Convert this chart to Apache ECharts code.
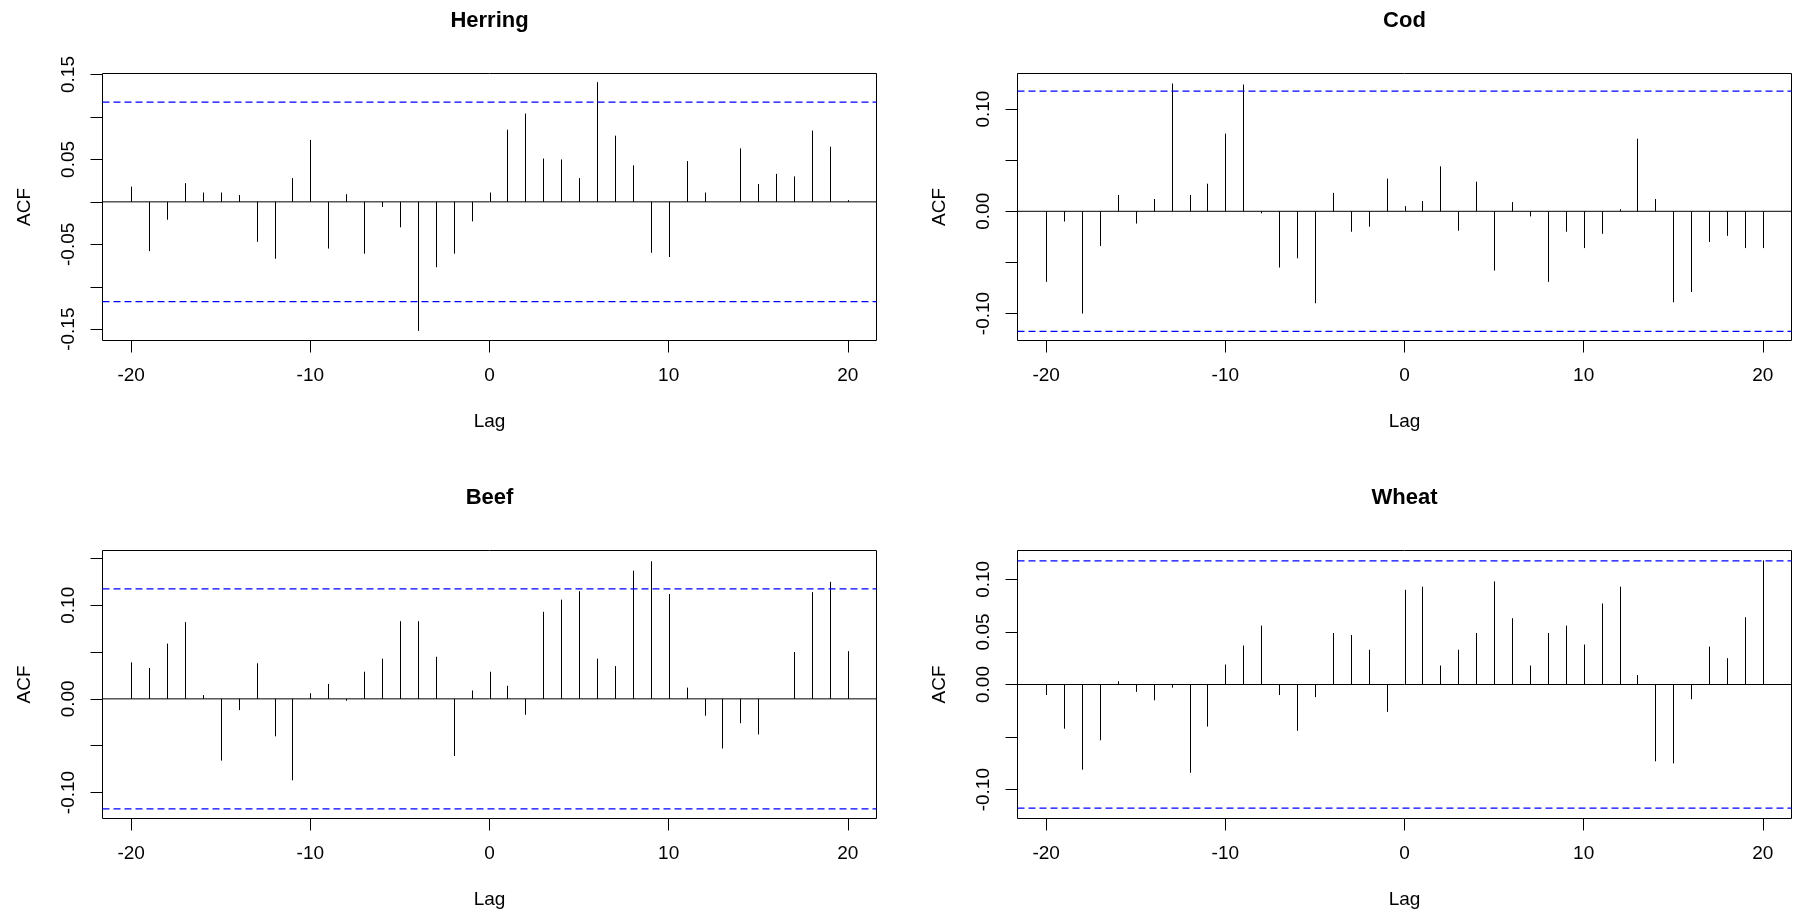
<!DOCTYPE html>
<html>
<head>
<meta charset="utf-8">
<script src="https://cdn.jsdelivr.net/npm/echarts@6/dist/echarts.min.js"></script>
<style>
  html, body { margin: 0; padding: 0; background: #fff; }
  #chart { width: 1793px; height: 914px; }
</style>
</head>
<body>
<div id="chart"></div>
<script>
// lags -20 .. 20
const lags = Array.from({ length: 41 }, (_, i) => i - 20);

// ACF values, one per lag
const herring = [0.018, -0.058, -0.021, 0.022, 0.011, 0.011, 0.008, -0.047, -0.067, 0.028,
  0.073, -0.055, 0.009, -0.061, -0.006, -0.030, -0.152, -0.077, -0.061, -0.023,
  0.011, 0.085, 0.104, 0.051, 0.050, 0.028, 0.141, 0.078, 0.043, -0.060,
  -0.065, 0.048, 0.011, 0.000, 0.063, 0.021, 0.033, 0.030, 0.084, 0.065, 0.002];
const cod = [-0.069, -0.010, -0.100, -0.034, 0.016, -0.012, 0.012, 0.125, 0.016, 0.027,
  0.076, 0.124, -0.002, -0.055, -0.046, -0.090, 0.018, -0.020, -0.015, 0.032,
  0.005, 0.010, 0.044, -0.019, 0.029, -0.058, 0.009, -0.005, -0.069, -0.020,
  -0.036, -0.022, 0.002, 0.071, 0.012, -0.089, -0.079, -0.030, -0.024, -0.036, -0.036];
const beef = [0.039, 0.033, 0.059, 0.082, 0.004, -0.066, -0.012, 0.038, -0.040, -0.087,
  0.006, 0.016, -0.002, 0.029, 0.043, 0.083, 0.083, 0.045, -0.061, 0.009,
  0.029, 0.014, -0.017, 0.093, 0.106, 0.115, 0.043, 0.035, 0.137, 0.147,
  0.112, 0.012, -0.018, -0.053, -0.026, -0.038, 0.000, 0.050, 0.114, 0.125, 0.051];
const wheat = [-0.010, -0.042, -0.081, -0.053, 0.003, -0.007, -0.015, -0.003, -0.084, -0.040,
  0.019, 0.037, 0.056, -0.010, -0.044, -0.012, 0.049, 0.047, 0.033, -0.026,
  0.090, 0.093, 0.018, 0.033, 0.049, 0.098, 0.063, 0.018, 0.049, 0.056,
  0.038, 0.077, 0.093, 0.009, -0.073, -0.075, -0.014, 0.036, 0.025, 0.064, 0.118];

// confidence bound (dashed blue)
const clim = 0.1175;

// tick marks and labelled ticks
const lagTicks = [-20, -10, 0, 10, 20];
const herringTicks = [-0.15, -0.10, -0.05, 0, 0.05, 0.10, 0.15];
const herringLabels = [-0.15, -0.05, 0.05, 0.15];
const codTicks = [-0.10, -0.05, 0, 0.05, 0.10];
const codLabels = [-0.10, 0, 0.10];
const beefTicks = [-0.10, -0.05, 0, 0.05, 0.10, 0.15];
const beefLabels = [-0.10, 0, 0.10];
const wheatTicks = [-0.10, -0.05, 0, 0.05, 0.10];
const wheatLabels = [-0.10, 0, 0.05, 0.10];

const xMin = -21.6, xMax = 21.6;

const panels = [
  { name: 'Herring', values: herring, ticks: herringTicks, labels: herringLabels, yMin: -0.1633, yMax: 0.1512, left: 102.5, top: 73.5, height: 267 },
  { name: 'Cod', values: cod, ticks: codTicks, labels: codLabels, yMin: -0.1264, yMax: 0.1348, left: 1017.5, top: 73.5, height: 267 },
  { name: 'Beef', values: beef, ticks: beefTicks, labels: beefLabels, yMin: -0.1278, yMax: 0.1585, left: 102.5, top: 550.5, height: 268 },
  { name: 'Wheat', values: wheat, ticks: wheatTicks, labels: wheatLabels, yMin: -0.1274, yMax: 0.1274, left: 1017.5, top: 550.5, height: 268 },
];
const plotWidth = 774;

const font = 'Liberation Sans, Arial, sans-serif';

const chart = echarts.init(document.getElementById('chart'));

const grid = [], xAxis = [], yAxis = [], series = [], title = [];

panels.forEach((p, i) => {
  grid.push({
    left: p.left, top: p.top, width: plotWidth, height: p.height,
    show: true, borderColor: '#000', borderWidth: 1, backgroundColor: 'transparent',
    containLabel: false,
  });
  title.push({
    text: p.name,
    left: p.left + plotWidth / 2, top: p.top - 64,
    textAlign: 'center', padding: 0,
    textStyle: { fontFamily: font, fontSize: 22, fontWeight: 'bold', color: '#000' },
  });
  xAxis.push({
    gridIndex: i, type: 'value', min: xMin, max: xMax, position: 'bottom',
    name: 'Lag', nameLocation: 'middle', nameGap: 72,
    nameTextStyle: { fontFamily: font, fontSize: 19, color: '#000' },
    axisLine: { show: false, onZero: false },
    splitLine: { show: false },
    axisTick: { show: true, length: 12, customValues: lagTicks, lineStyle: { color: '#000', width: 1 } },
    axisLabel: { customValues: lagTicks, margin: 26, fontFamily: font, fontSize: 19, color: '#000' },
  });
  yAxis.push({
    gridIndex: i, type: 'value', min: p.yMin, max: p.yMax, position: 'left',
    name: 'ACF', nameLocation: 'middle', nameGap: 68,
    nameTextStyle: { fontFamily: font, fontSize: 19, color: '#000' },
    axisLine: { show: false, onZero: false },
    splitLine: { show: false },
    axisTick: { show: true, length: 12, customValues: p.ticks, lineStyle: { color: '#000', width: 1 } },
    axisLabel: {
      customValues: p.labels, rotate: 90, margin: 24,
      fontFamily: font, fontSize: 19, color: '#000',
      formatter: v => v.toFixed(2),
    },
  });
  // vertical ACF spikes
  series.push({
    type: 'custom', xAxisIndex: i, yAxisIndex: i, silent: true, animation: false,
    data: lags.map((lag, k) => [lag, p.values[k]]),
    encode: { x: 0, y: 1 },
    renderItem(params, api) {
      const a = api.coord([api.value(0), 0]);
      const b = api.coord([api.value(0), api.value(1)]);
      const x = Math.round(a[0]) + 0.5;
      return {
        type: 'line',
        shape: { x1: x, y1: a[1], x2: x, y2: b[1] },
        style: { stroke: '#000', lineWidth: 1 },
      };
    },
  });
  // zero line
  series.push({
    type: 'line', xAxisIndex: i, yAxisIndex: i, silent: true, animation: false,
    data: [[xMin, 0], [xMax, 0]], showSymbol: false,
    lineStyle: { color: '#000', width: 1 },
  });
  // confidence bounds
  [clim, -clim].forEach(c => {
    series.push({
      type: 'line', xAxisIndex: i, yAxisIndex: i, silent: true, animation: false,
      data: [[xMin, c], [xMax, c]], showSymbol: false,
      lineStyle: { color: '#0000ff', width: 1.3, type: [7, 4] },
    });
  });
});

chart.setOption({
  backgroundColor: '#fff',
  animation: false,
  title,
  grid,
  xAxis,
  yAxis,
  series,
});
</script>
</body>
</html>
